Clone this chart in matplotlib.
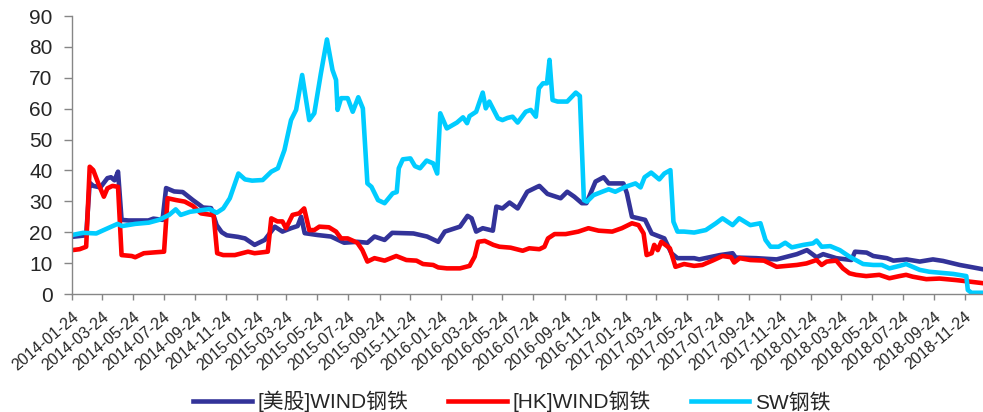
import matplotlib
matplotlib.use("Agg")
import matplotlib.pyplot as plt
import matplotlib.dates as mdates
import pandas as pd

plt.rcParams['font.family'] = ['Liberation Sans', 'Noto Sans CJK SC']

# [美股]WIND钢铁
us_dates = ['2014-01-24', '2014-02-21', '2014-02-28', '2014-03-07', '2014-03-21', '2014-04-04',
            '2014-04-11', '2014-04-18', '2014-04-25', '2014-05-02', '2014-05-16', '2014-06-24',
            '2014-07-04', '2014-07-22', '2014-07-29', '2014-08-14', '2014-08-31', '2014-09-20',
            '2014-10-10', '2014-10-26', '2014-11-06', '2014-11-16', '2014-11-26', '2014-12-18',
            '2015-01-01', '2015-01-20', '2015-02-09', '2015-03-01', '2015-03-16', '2015-04-02',
            '2015-04-15', '2015-04-22', '2015-04-29', '2015-05-24', '2015-06-20', '2015-07-16',
            '2015-08-11', '2015-08-31', '2015-09-14', '2015-10-04', '2015-10-19', '2015-11-30',
            '2015-12-27', '2016-01-18', '2016-01-31', '2016-03-01', '2016-03-16', '2016-03-24',
            '2016-04-02', '2016-04-15', '2016-05-05', '2016-05-12', '2016-05-24', '2016-06-07',
            '2016-06-23', '2016-07-12', '2016-08-01', '2016-08-05', '2016-08-21', '2016-09-16',
            '2016-09-29', '2016-10-13', '2016-10-28', '2016-11-06', '2016-11-24', '2016-12-10',
            '2016-12-20', '2017-01-18', '2017-01-25', '2017-02-04', '2017-03-02', '2017-03-15',
            '2017-04-09', '2017-04-23', '2017-05-05', '2017-06-07', '2017-06-17', '2017-07-28',
            '2017-08-22', '2017-08-28', '2017-10-08', '2017-11-17', '2017-12-27', '2018-01-16',
            '2018-02-04', '2018-02-17', '2018-03-15', '2018-04-14', '2018-04-21', '2018-05-14',
            '2018-05-27', '2018-06-23', '2018-07-06', '2018-08-01', '2018-08-27', '2018-09-22',
            '2018-10-12', '2018-11-14', '2018-12-04', '2018-12-30']
us_vals = [18.5, 19.0, 36.0, 35.0, 34.5, 37.5,
           37.8, 36.8, 39.6, 24.0, 23.8, 23.8,
           24.4, 24.0, 34.3, 33.2, 33.0, 30.4,
           28.0, 27.8, 22.3, 20.0, 19.0, 18.5,
           18.0, 15.9, 17.5, 21.8, 20.2, 21.3,
           22.0, 25.0, 19.7, 19.1, 18.6, 16.6,
           16.9, 16.6, 18.6, 17.5, 19.8, 19.6,
           18.6, 16.9, 20.2, 21.8, 25.3, 24.5,
           20.2, 21.3, 20.5, 28.3, 27.7, 29.6,
           27.7, 33.1, 34.7, 35.0, 32.4, 31.0,
           33.1, 31.5, 29.4, 29.4, 36.4, 37.8,
           35.8, 35.8, 32.6, 25.0, 24.0, 19.6,
           18.0, 13.2, 11.6, 11.6, 11.2, 12.6,
           13.2, 11.8, 11.6, 11.2, 12.9, 14.2,
           11.9, 12.9, 11.6, 11.0, 13.7, 13.4,
           12.3, 11.6, 10.8, 11.2, 10.5, 11.2,
           10.7, 9.4, 8.8, 8.0]

# [HK]WIND钢铁
hk_dates = ['2014-01-24', '2014-02-08', '2014-02-21', '2014-02-28', '2014-03-07', '2014-03-17',
            '2014-03-28', '2014-04-04', '2014-04-14', '2014-04-25', '2014-05-02', '2014-05-22',
            '2014-05-29', '2014-06-15', '2014-07-08', '2014-07-25', '2014-08-01', '2014-08-18',
            '2014-09-04', '2014-09-20', '2014-10-06', '2014-10-31', '2014-11-07', '2014-11-19',
            '2014-12-12', '2015-01-07', '2015-01-20', '2015-02-15', '2015-02-22', '2015-03-06',
            '2015-03-16', '2015-03-23', '2015-04-05', '2015-04-18', '2015-04-28', '2015-05-08',
            '2015-05-18', '2015-05-28', '2015-06-16', '2015-06-30', '2015-07-10', '2015-07-23',
            '2015-08-11', '2015-08-21', '2015-08-31', '2015-09-14', '2015-10-04', '2015-10-27',
            '2015-11-16', '2015-12-06', '2015-12-19', '2016-01-08', '2016-01-18', '2016-02-04',
            '2016-03-01', '2016-03-20', '2016-03-30', '2016-04-06', '2016-04-19', '2016-05-06',
            '2016-05-18', '2016-06-09', '2016-07-03', '2016-07-16', '2016-08-05', '2016-08-15',
            '2016-08-22', '2016-09-04', '2016-09-26', '2016-10-21', '2016-11-10', '2016-11-30',
            '2016-12-27', '2017-01-15', '2017-02-04', '2017-02-17', '2017-02-27', '2017-03-05',
            '2017-03-15', '2017-03-20', '2017-03-27', '2017-04-03', '2017-04-20', '2017-05-01',
            '2017-05-18', '2017-06-07', '2017-06-23', '2017-07-13', '2017-08-02', '2017-08-19',
            '2017-08-25', '2017-09-05', '2017-09-26', '2017-10-23', '2017-11-17', '2017-12-27',
            '2018-01-15', '2018-02-04', '2018-02-14', '2018-02-24', '2018-03-15', '2018-03-28',
            '2018-04-10', '2018-04-23', '2018-05-13', '2018-06-08', '2018-06-28', '2018-07-18',
            '2018-07-31', '2018-08-13', '2018-09-09', '2018-10-05', '2018-11-07', '2018-12-04',
            '2018-12-30']
hk_vals = [14.2, 14.5, 15.3, 41.2, 40.1, 35.8,
           31.5, 34.2, 35.0, 34.7, 12.6, 12.3,
           11.9, 13.2, 13.5, 13.7, 31.0, 30.4,
           29.9, 28.5, 26.1, 25.5, 13.2, 12.6,
           12.6, 13.7, 13.2, 13.7, 24.5, 23.5,
           23.5, 21.3, 25.6, 26.1, 27.7, 20.7,
           20.7, 21.8, 21.6, 20.2, 18.0, 18.0,
           16.6, 14.2, 10.5, 11.6, 10.8, 12.3,
           11.0, 10.8, 9.7, 9.4, 8.6, 8.3,
           8.3, 9.1, 12.1, 16.9, 17.2, 15.9,
           15.3, 15.0, 14.0, 14.8, 14.5, 15.3,
           18.0, 19.4, 19.4, 20.2, 21.3, 20.5,
           20.2, 21.3, 22.9, 22.3, 19.6, 12.6,
           13.2, 15.9, 14.2, 16.9, 14.8, 8.8,
           9.7, 9.1, 9.4, 10.8, 12.3, 11.9,
           10.2, 11.6, 11.0, 10.8, 8.8, 9.4,
           9.9, 11.0, 9.4, 10.5, 10.8, 8.3,
           6.7, 6.2, 5.8, 6.2, 5.1, 5.8,
           6.2, 5.6, 4.8, 5.0, 4.5, 4.0,
           3.5]

# SW钢铁
sw_dates = ['2014-01-24', '2014-02-15', '2014-03-13', '2014-03-25', '2014-04-24', '2014-05-03',
            '2014-05-29', '2014-06-25', '2014-07-15', '2014-08-04', '2014-08-17', '2014-08-27',
            '2014-09-14', '2014-10-10', '2014-10-23', '2014-11-06', '2014-11-19', '2014-12-02',
            '2014-12-19', '2015-01-01', '2015-01-15', '2015-02-05', '2015-02-22', '2015-03-07',
            '2015-03-20', '2015-04-02', '2015-04-12', '2015-04-24', '2015-05-08', '2015-05-18',
            '2015-05-31', '2015-06-12', '2015-06-23', '2015-06-30', '2015-07-03', '2015-07-10',
            '2015-07-23', '2015-08-02', '2015-08-13', '2015-08-22', '2015-08-31', '2015-09-08',
            '2015-09-21', '2015-10-04', '2015-10-20', '2015-10-28', '2015-11-01', '2015-11-09',
            '2015-11-24', '2015-12-03', '2015-12-13', '2015-12-26', '2016-01-08', '2016-01-16',
            '2016-01-22', '2016-02-04', '2016-02-24', '2016-03-07', '2016-03-15', '2016-03-20',
            '2016-04-02', '2016-04-15', '2016-04-21', '2016-04-28', '2016-05-15', '2016-05-24',
            '2016-06-03', '2016-06-13', '2016-06-23', '2016-07-09', '2016-07-19', '2016-07-29',
            '2016-08-04', '2016-08-12', '2016-08-20', '2016-08-25', '2016-08-31', '2016-09-10',
            '2016-09-29', '2016-10-16', '2016-10-24', '2016-11-01', '2016-11-07', '2016-11-20',
            '2016-12-07', '2016-12-20', '2017-01-02', '2017-01-22', '2017-02-11', '2017-02-21',
            '2017-03-01', '2017-03-14', '2017-03-30', '2017-04-09', '2017-04-21', '2017-04-27',
            '2017-05-05', '2017-05-18', '2017-06-07', '2017-06-30', '2017-07-20', '2017-08-02',
            '2017-08-22', '2017-09-04', '2017-09-26', '2017-10-16', '2017-10-26', '2017-11-05',
            '2017-11-21', '2017-12-04', '2017-12-17', '2018-01-09', '2018-01-28', '2018-02-04',
            '2018-02-14', '2018-03-03', '2018-03-22', '2018-04-10', '2018-05-07', '2018-05-27',
            '2018-06-13', '2018-06-28', '2018-07-18', '2018-07-31', '2018-08-13', '2018-08-27',
            '2018-09-15', '2018-10-05', '2018-11-01', '2018-11-27', '2018-11-30', '2018-12-07',
            '2018-12-30']
sw_vals = [19.1, 19.8, 19.6, 20.5, 22.7, 22.0,
           22.7, 23.1, 24.0, 25.6, 27.4, 25.6,
           26.6, 27.2, 27.5, 26.3, 27.7, 31.0,
           39.0, 37.1, 36.7, 36.9, 39.6, 40.7,
           46.6, 56.3, 59.6, 70.9, 56.3, 58.5,
           71.4, 82.4, 72.5, 69.3, 59.6, 63.4,
           63.4, 59.0, 63.7, 60.1, 35.8, 34.7,
           30.4, 29.4, 32.6, 33.0, 40.7, 43.6,
           43.9, 41.4, 40.7, 43.2, 42.3, 39.0,
           58.5, 53.6, 55.5, 57.2, 55.3, 57.6,
           59.0, 65.2, 60.1, 62.3, 56.9, 56.3,
           57.0, 57.4, 55.5, 59.0, 59.6, 57.4,
           66.6, 68.2, 68.2, 75.8, 62.8, 62.3,
           62.3, 65.2, 64.1, 30.4, 29.9, 32.0,
           33.1, 33.9, 33.1, 34.7, 35.8, 34.5,
           37.8, 39.3, 37.1, 39.0, 40.1, 23.4,
           20.2, 20.2, 19.9, 20.7, 22.9, 24.5,
           22.3, 24.5, 22.3, 22.9, 17.5, 15.3,
           15.3, 16.6, 15.1, 15.9, 16.4, 17.3,
           15.3, 15.5, 14.2, 12.1, 9.7, 9.4,
           9.4, 8.3, 9.1, 9.7, 8.8, 7.8,
           7.2, 6.9, 6.5, 5.8, 1.3, 0.4,
           0.4]

series = [
    ('[美股]WIND钢铁', us_dates, us_vals, '#333399'),
    ('[HK]WIND钢铁', hk_dates, hk_vals, '#FF0000'),
    ('SW钢铁', sw_dates, sw_vals, '#00CCFF'),
]

axis_grey = '#868686'
text_col = '#262626'

fig = plt.figure(figsize=(9.83, 4.12), dpi=100)
ax = fig.add_axes([72 / 983, 1 - 294 / 412, (983 - 72) / 983, (294 - 16) / 412])

handles = []
for label, dates, vals, color in series:
    line, = ax.plot(pd.to_datetime(dates), vals, color=color, lw=3.3,
                    solid_joinstyle='round', label=label)
    handles.append(line)

ax.set_ylim(0, 90)
ax.set_yticks(range(0, 91, 10))
ax.set_xlim(pd.Timestamp('2014-01-24'), pd.Timestamp('2018-12-30'))
ax.xaxis.set_major_locator(mdates.MonthLocator(bymonth=range(1, 13, 2), bymonthday=24))
ax.xaxis.set_major_formatter(mdates.DateFormatter('%Y-%m-%d'))

for side in ('top', 'right'):
    ax.spines[side].set_visible(False)
for side in ('left', 'bottom'):
    ax.spines[side].set_color(axis_grey)
    ax.spines[side].set_linewidth(1)

ax.tick_params(axis='y', length=6, width=1, color=axis_grey, labelsize=15,
               labelcolor=text_col, pad=8)
ax.tick_params(axis='x', length=4, width=1, color=axis_grey, labelsize=11.5,
               labelcolor=text_col, pad=7)
plt.setp(ax.get_xticklabels(), rotation=40, ha='right', rotation_mode='anchor')

fig.legend(handles=handles, loc='center', bbox_to_anchor=(0.521, 0.025), ncol=3,
           frameon=False, fontsize=15, handlelength=2.8, handletextpad=0.3,
           columnspacing=1.9, labelcolor=text_col)

fig.savefig('out.png', dpi=100)
plt.close(fig)
